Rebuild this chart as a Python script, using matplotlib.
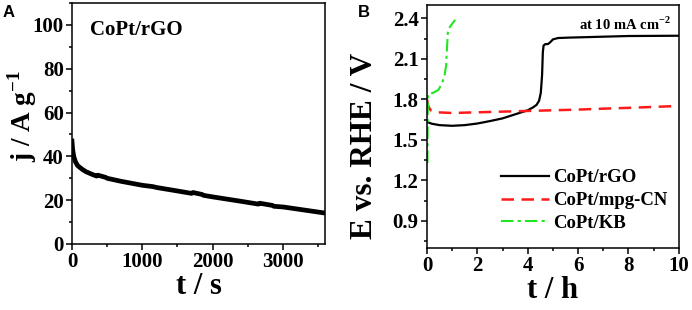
import numpy as np
import matplotlib
matplotlib.use('Agg')
import matplotlib.pyplot as plt
from matplotlib.ticker import MultipleLocator

plt.rcParams['font.family'] = ['Liberation Serif', 'DejaVu Serif']
plt.rcParams['font.weight'] = 'bold'
plt.rcParams['axes.labelweight'] = 'bold'
plt.rcParams['mathtext.fontset'] = 'custom'
plt.rcParams['mathtext.rm'] = 'Liberation Serif:bold'
plt.rcParams['mathtext.bf'] = 'Liberation Serif:bold'

# panel A: chronoamperometry of CoPt/rGO
t_a = [0, 10, 25, 50, 80, 110, 150, 200, 300, 350, 370, 480, 500, 700, 1000, 1150, 1200,
       1500, 1700, 1720, 1850, 1870, 2000, 2400, 2650, 2670, 2850, 2870, 3000, 3300, 3600]
j_a = [47, 43, 40, 37.5, 35.8, 35, 34, 33, 31.6, 31, 31.4, 30.4, 30, 28.6, 26.8, 26.2, 25.8,
       24.2, 23.1, 23.5, 22.6, 22.2, 21.5, 19.5, 18.2, 18.6, 17.6, 17.2, 16.9, 15.5, 14.1]

# panel B: chronopotentiometry at 10 mA cm-2
t_rgo = [0, 0.05, 0.2, 0.5, 1.0, 1.5, 2.0, 2.5, 3.0, 3.5, 4.0, 4.2, 4.35, 4.45, 4.52,
         4.57, 4.6, 4.63, 4.7, 4.8, 4.9, 5.0, 5.2, 5.6, 6, 8, 10]
e_rgo = [1.63, 1.63, 1.62, 1.61, 1.605, 1.61, 1.622, 1.64, 1.66, 1.69, 1.72, 1.74, 1.76,
         1.79, 1.85, 1.98, 2.15, 2.2, 2.21, 2.21, 2.225, 2.245, 2.255, 2.258, 2.26, 2.27, 2.272]

t_cn = [0, 0.05, 0.15, 0.4, 1.0, 2.0, 3.0, 4.0, 5.0, 6.0, 7.0, 8.0, 9.0, 10]
e_cn = [1.80, 1.75, 1.72, 1.705, 1.70, 1.705, 1.71, 1.715, 1.72, 1.725, 1.732, 1.738, 1.745, 1.752]

t_kb = [0.02, 0.03, 0.05, 0.25, 0.45, 0.6, 0.7, 0.76, 0.8, 0.83, 0.88, 1.0, 1.12]
e_kb = [1.33, 1.70, 1.84, 1.85, 1.87, 1.92, 1.98, 2.05, 2.2, 2.3, 2.33, 2.36, 2.39]

fig = plt.figure(figsize=(6.92, 3.10), dpi=100)
axA = fig.add_axes([0.104, 0.213, 0.366, 0.777])
axB = fig.add_axes([0.617, 0.200, 0.364, 0.784])

for ax in (axA, axB):
    for s in ax.spines.values():
        s.set_linewidth(1.1)
    ax.tick_params(which='both', direction='out', top=False, right=False,
                   labelsize=15, width=1.1, pad=2)
    ax.tick_params(which='major', length=4)
    ax.tick_params(which='minor', length=2.5)

axA.plot(t_a, j_a, color='black', lw=3.4)
axA.set_xlim(0, 3600)
axA.set_ylim(0, 110)
axA.xaxis.set_major_locator(MultipleLocator(1000))
axA.xaxis.set_minor_locator(MultipleLocator(500))
axA.yaxis.set_major_locator(MultipleLocator(20))
axA.yaxis.set_minor_locator(MultipleLocator(10))
axA.set_xlabel('t / s', fontsize=22, labelpad=0)
axA.set_ylabel('j / A g$^{-1}$', fontsize=19.5)
axA.yaxis.set_label_coords(-0.13, 0.53)
axA.text(0.07, 0.93, 'CoPt/rGO', transform=axA.transAxes, fontsize=15,
         va='top', ha='left')

axB.plot(t_rgo, e_rgo, color='black', lw=1.6, label='CoPt/rGO')
axB.plot(t_cn, e_cn, color='#ff1a1a', lw=1.8, dashes=(5, 3), label='CoPt/mpg-CN')
axB.plot(t_kb, e_kb, color='#22e622', lw=1.5, dashes=(6, 2, 1.5, 2), label='CoPt/KB')
axB.set_xlim(0, 10)
axB.set_ylim(0.7, 2.5)
axB.xaxis.set_major_locator(MultipleLocator(2))
axB.xaxis.set_minor_locator(MultipleLocator(1))
axB.yaxis.set_major_locator(MultipleLocator(0.3))
axB.yaxis.set_minor_locator(MultipleLocator(0.15))
axB.yaxis.set_major_formatter(plt.FormatStrFormatter('%.1f'))
axB.set_xlabel('t / h', fontsize=22, labelpad=0)
axB.set_ylabel('E vs. RHE / V', fontsize=22.5)
axB.yaxis.set_label_coords(-0.19, 0.42)
axB.text(0.97, 0.955, 'at 10 mA cm$^{-2}$', transform=axB.transAxes, fontsize=10.5,
         va='top', ha='right')
axB.legend(loc='lower right', bbox_to_anchor=(1.0, 0.02), frameon=False, fontsize=13.5,
           handlelength=2.6, handletextpad=0.2, labelspacing=0.3, borderaxespad=0.2)

fig.text(0.004, 0.985, 'A', fontsize=12, fontweight='bold', family='Liberation Sans',
         va='top', ha='left')
fig.text(0.517, 0.985, 'B', fontsize=12, fontweight='bold', family='Liberation Sans',
         va='top', ha='left')

fig.savefig('out.png', dpi=100)
